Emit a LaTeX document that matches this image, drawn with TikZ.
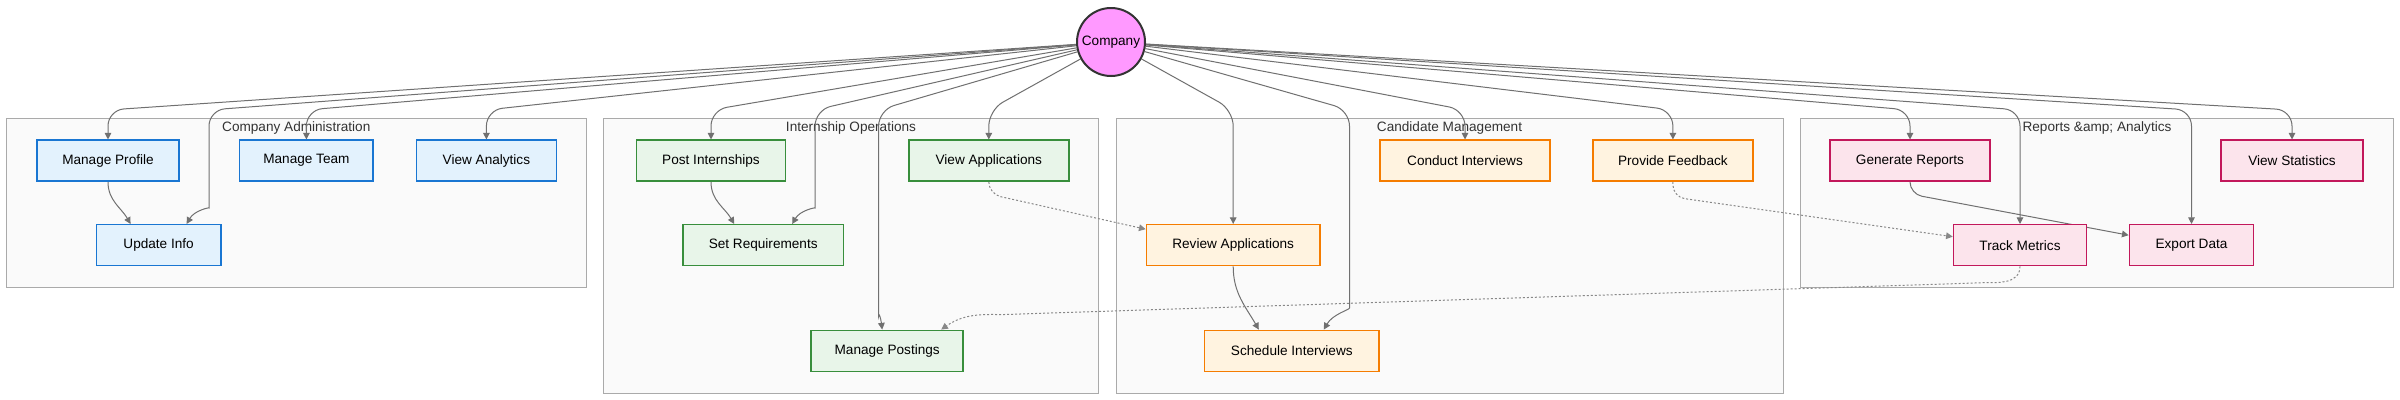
\documentclass[tikz,border=0pt]{standalone}
\usepackage{fontspec}
\setmainfont{Liberation Sans}
\usetikzlibrary{arrows.meta,calc}
\pgfdeclarelayer{bg}
\pgfdeclarelayer{edges}
\pgfsetlayers{bg,edges,main}
\definecolor{edgec}{HTML}{707070}
\definecolor{dotc}{HTML}{888888}
\definecolor{clfill}{HTML}{FAFAFA}
\definecolor{cldraw}{HTML}{AAAAAA}
\definecolor{cltext}{HTML}{333333}
\definecolor{bluef}{HTML}{E3F2FD}
\definecolor{blued}{HTML}{1976D2}
\definecolor{greenf}{HTML}{E8F5E9}
\definecolor{greend}{HTML}{388E3C}
\definecolor{orangef}{HTML}{FFF3E0}
\definecolor{oranged}{HTML}{F57C00}
\definecolor{pinkf}{HTML}{FCE4EC}
\definecolor{pinkd}{HTML}{C2185B}
\definecolor{compf}{HTML}{FF99FF}
\definecolor{compd}{HTML}{333333}
\begin{document}
\begin{tikzpicture}[x=0.75pt,y=-0.75pt,
  every node/.style={font=\fontsize{10.2pt}{12pt}\selectfont, text=black},
  box/.style={rectangle, draw, line width=1.1pt, minimum height=30.75pt, inner sep=0pt},
  bluebox/.style={box, fill=bluef, draw=blued},
  greenbox/.style={box, fill=greenf, draw=greend},
  orangebox/.style={box, fill=orangef, draw=oranged},
  pinkbox/.style={box, fill=pinkf, draw=pinkd},
  cluster/.style={fill=clfill, draw=cldraw, line width=0.75pt},
  cltitle/.style={text=cltext, inner sep=0pt},
  cedge/.style={draw=edgec, line width=0.75pt, rounded corners=12pt, -{Triangle[length=5pt,width=5pt]}},
  dedge/.style={draw=dotc, line width=0.75pt, dash pattern=on 1.5pt off 1.5pt, rounded corners=9pt, -{Triangle[length=5pt,width=5pt,sep=0pt]}},
  wedge/.style={cedge, rounded corners=9pt}
]
\useasboundingbox (0,0) rectangle (2400,400);

% clusters
\begin{pgfonlayer}{bg}
\fill[white] (0,0) rectangle (2400,400);
\draw[cluster] (6.5,118) rectangle (586,287);
\draw[cluster] (603.4,118) rectangle (1098.7,393);
\draw[cluster] (1116,118) rectangle (1783,393);
\draw[cluster] (1800.6,118) rectangle (2393.3,287);
\node[cltitle] (tCA) at (296.3,127.5) {Company Administration};
\node[cltitle] (tIO) at (851,127.5) {Internship Operations};
\node[cltitle] (tCM) at (1449.5,127.5) {Candidate Management};
\node[cltitle] (tRA) at (2097,127.5) {Reports \&amp; Analytics};
\end{pgfonlayer}

% nodes
\node[circle, fill=compf, draw=compd, line width=1.5pt, minimum size=51pt, inner sep=0pt] (C) at (1111,42) {Company};

\node[bluebox, minimum width=106.5pt] (MP) at (108,160.7) {Manage Profile};
\node[bluebox, minimum width=100.1pt] (MT) at (306.4,160.7) {Manage Team};
\node[bluebox, minimum width=105pt] (VA) at (486.4,160.7) {View Analytics};
\node[bluebox, minimum width=93.3pt] (UI) at (158.6,245.2) {Update Info};

\node[greenbox, minimum width=111.75pt] (PI) at (711,160.7) {Post Internships};
\node[greenbox, minimum width=120pt] (VAp) at (988.8,160.7) {View Applications};
\node[greenbox, minimum width=120.3pt] (SR) at (763.2,245.2) {Set Requirements};
\node[greenbox, minimum width=114pt] (MPo) at (887.2,350.8) {Manage Postings};

\node[orangebox, minimum width=127.5pt] (CI) at (1465,160.7) {Conduct Interviews};
\node[orangebox, minimum width=120pt] (PF) at (1672.9,160.7) {Provide Feedback};
\node[orangebox, minimum width=130.2pt] (RAn) at (1233.2,245.2) {Review Applications};
\node[orangebox, minimum width=130.9pt] (SI) at (1291.8,350.8) {Schedule Interviews};

\node[pinkbox, minimum width=119.7pt] (GR) at (1910,160.7) {Generate Reports};
\node[pinkbox, minimum width=106.3pt] (VS) at (2292,160.7) {View Statistics};
\node[pinkbox, minimum width=99.75pt] (TM) at (2020,245.2) {Track Metrics};
\node[pinkbox, minimum width=93.2pt] (ED) at (2191.5,245.2) {Export Data};

\coordinate (yb) at (0,110);

% edges
\begin{pgfonlayer}{edges}
\draw[cedge] (C) -- (MP |- yb) -- (MP);
\draw[cedge] (C) -- (209,110) -- (209,192) to[out=270,in=60] ($(UI.north)+(28,0)$);
\draw[cedge] (C) -- (MT |- yb) -- (MT);
\draw[cedge] (C) -- (VA |- yb) -- (VA);
\draw[cedge] (C) -- (PI |- yb) -- (PI);
\draw[cedge] (C) -- (815,110) -- (815,192) to[out=270,in=60] ($(SR.north)+(29,0)$);
\draw[cedge] (C) -- (878.6,110) -- (878.6,300) to[out=270,in=97] ($(MPo.north)+(-5,0)$);
\draw[cedge] (C) -- (VAp |- yb) -- (VAp);
\draw[cedge] (C) -- (RAn |- yb) -- (RAn);
\draw[cedge] (C) -- (1349.5,110) -- (1349.5,292) to[out=270,in=60] ($(SI.north)+(32,0)$);
\draw[cedge] (C) -- (CI |- yb) -- (CI);
\draw[cedge] (C) -- (PF |- yb) -- (PF);
\draw[cedge] (C) -- (GR |- yb) -- (GR);
\draw[cedge] (C) -- (TM |- yb) -- (TM);
\draw[cedge] (C) -- (ED |- yb) -- (ED);
\draw[cedge] (C) -- (VS |- yb) -- (VS);

\draw[cedge] (MP.south) to[out=270,in=120] ($(UI.north)+(-28,0)$);
\draw[cedge] (PI.south) to[out=270,in=120] ($(SR.north)+(-29,0)$);
\draw[cedge] (RAn.south) to[out=270,in=120] ($(SI.north)+(-33,0)$);
\draw[wedge] (GR.south) -- (1910,194) -- ($(ED.west)+(0,-10)$);

\draw[dedge] (VAp.south) -- (988.8,194) -- ($(RAn.west)+(0,-16)$);
\draw[dedge] (PF.south) -- (1672.9,197) -- ($(TM.west)+(0,-8.5)$);
\draw[dedge] (TM.south) to[out=270,in=2] (1975,283) -- (1020,314) to[out=182,in=35] ($(MPo.north)+(54,0)$);
\end{pgfonlayer}
\end{tikzpicture}
\end{document}
